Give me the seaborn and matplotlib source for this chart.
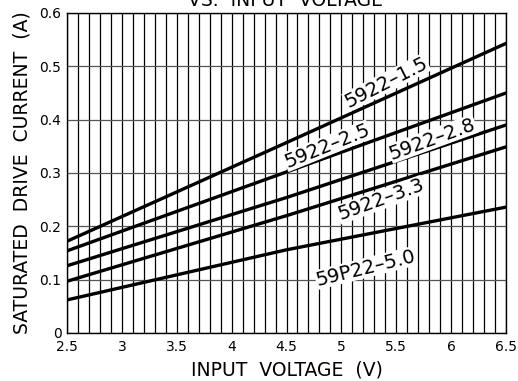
import numpy as np
import pandas as pd
import matplotlib
matplotlib.use("Agg")
import matplotlib.pyplot as plt
import seaborn as sns

# Data
voltage = [2.5, 4.5, 6.5]
series_names = ["5922-1.5", "5922-2.5", "5922-2.8", "5922-3.3", "59P22-5.0"]
cur_1_5 = [0.172, 0.357, 0.543]
cur_2_5 = [0.154, 0.302, 0.450]
cur_2_8 = [0.126, 0.254, 0.390]
cur_3_3 = [0.097, 0.220, 0.349]
cur_5_0 = [0.062, 0.156, 0.236]
x_ticks = [2.5, 3, 3.5, 4, 4.5, 5, 5.5, 6, 6.5]
x_tick_labels = ["2.5", "3", "3.5", "4", "4.5", "5", "5.5", "6", "6.5"]
y_ticks = [0, 0.1, 0.2, 0.3, 0.4, 0.5, 0.6]
y_tick_labels = ["0", "0.1", "0.2", "0.3", "0.4", "0.5", "0.6"]
# label anchor positions (data coords) for each curve label
label_x = [5.41, 4.87, 5.83, 5.36, 5.22]
label_y = [0.470, 0.351, 0.364, 0.250, 0.122]
label_rot = [27, 22, 20, 20, 14]

all_vals = [cur_1_5, cur_2_5, cur_2_8, cur_3_3, cur_5_0]
df = pd.DataFrame({
    "voltage": np.tile(voltage, len(series_names)),
    "current": np.concatenate(all_vals),
    "part": np.repeat(series_names, len(voltage)),
})

sns.set_theme(style="white")
plt.rcParams["font.family"] = ["DejaVu Sans"]

fig = plt.figure(figsize=(5.18, 3.81), dpi=100)
ax = fig.add_axes([67 / 518, 48 / 381, 439 / 518, 320 / 381])

# grid
ax.set_xlim(2.5, 6.5)
ax.set_ylim(0, 0.6)
ax.set_xticks(x_ticks)
ax.set_xticklabels(x_tick_labels)
ax.set_xticks(np.arange(25, 66) / 10.0, minor=True)
ax.set_yticks(y_ticks)
ax.set_yticklabels(y_tick_labels)
ax.grid(True, axis="x", which="both", color="black", linewidth=0.9)
ax.grid(True, axis="y", which="major", color="#555555", linewidth=0.9)
ax.set_axisbelow(True)

sns.lineplot(data=df, x="voltage", y="current", hue="part",
             palette=["black"] * len(series_names), linewidth=2.4,
             legend=False, ax=ax, zorder=3)

for name, lx, ly, r in zip(series_names, label_x, label_y, label_rot):
    ax.text(lx, ly, name.replace("-", "\u2013"), rotation=r, rotation_mode="anchor",
            ha="center", va="center", fontsize=14, color="black", zorder=4,
            bbox=dict(facecolor="white", edgecolor="none", pad=0.3))

for s in ax.spines.values():
    s.set_color("black")
    s.set_linewidth(1.0)
    s.set_visible(True)

ax.tick_params(axis="both", which="both", length=0, labelsize=10, colors="black")
ax.tick_params(axis="x", pad=5)
ax.tick_params(axis="y", pad=4)

ax.set_xlabel("INPUT  VOLTAGE  (V)", fontsize=13.5, color="black", labelpad=5)
ax.set_ylabel("SATURATED  DRIVE  CURRENT  (A)", fontsize=13.5, color="black", labelpad=6)

fig.text(286 / 518, 1.0, "VS.  INPUT  VOLTAGE", ha="center", va="center",
         fontsize=13.5, color="black")

fig.savefig("out.png", dpi=100)
